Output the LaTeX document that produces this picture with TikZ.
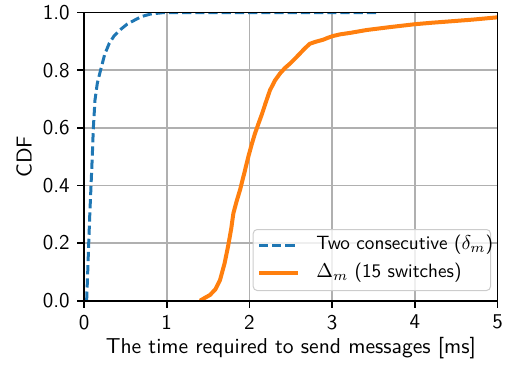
\documentclass[tikz,border=0pt]{standalone}
\usepackage{fontspec}
\definecolor{tabblue}{HTML}{1F77B4}
\definecolor{taborange}{HTML}{FF7F0E}
\definecolor{gridgray}{HTML}{B0B0B0}
\definecolor{legedge}{HTML}{CCCCCC}
\tikzset{
  gridline/.style={draw=gridgray, line width=0.8pt},
  spine/.style={draw=black, line width=0.8pt},
  bluecurve/.style={draw=tabblue, line width=1.5pt, dash pattern=on 4.6pt off 2pt},
  orangecurve/.style={draw=taborange, line width=2pt, line join=round},
  ticklab/.style={inner sep=0pt},
  legbox/.style={draw=legedge, fill=white, fill opacity=0.8, rounded corners=2pt, line width=0.5pt},
  legtext/.style={anchor=west, inner sep=0pt, font=\sffamily\fontsize{9.6}{11}\selectfont},
}
\begin{document}
\begin{tikzpicture}[x=1pt,y=1pt, font=\sffamily\fontsize{10.5}{12}\selectfont]
\useasboundingbox (0,0) rectangle (254,182.5);
\begin{scope}[shift={(42,32.15)}, x=41.35pt, y=144pt]
  % grid
  \foreach \i in {1,...,4} \draw[gridline] (\i,0) -- (\i,1);
  \foreach \j in {0.2,0.4,0.6,0.8} \draw[gridline] (0,\j) -- (5,\j);
  % curves
  \begin{scope}
    \clip (0,0) rectangle (5,1);
    \draw[bluecurve] (0.032,0) -- (0.045,0.1) -- (0.057,0.2) -- (0.07,0.3) -- (0.085,0.4) -- (0.1,0.5) -- (0.113,0.6) -- (0.133,0.697) -- (0.161,0.755) -- (0.2,0.8) -- (0.25,0.855) -- (0.306,0.894) -- (0.365,0.92) -- (0.435,0.94) -- (0.52,0.96) -- (0.617,0.975) -- (0.7,0.987) -- (0.8,0.995) -- (0.95,1.0) -- (3.55,1.0);
    \draw[orangecurve] (1.403,0) -- (1.45,0.008) -- (1.524,0.02) -- (1.59,0.04) -- (1.645,0.072) -- (1.7,0.13) -- (1.745,0.193) -- (1.78,0.25) -- (1.806,0.303) -- (1.845,0.345) -- (1.886,0.384) -- (1.94,0.445) -- (1.987,0.5) -- (2.03,0.545) -- (2.068,0.581) -- (2.11,0.615) -- (2.148,0.645) -- (2.2,0.69) -- (2.249,0.731) -- (2.31,0.765) -- (2.37,0.789) -- (2.43,0.808) -- (2.49,0.823) -- (2.55,0.84) -- (2.61,0.858) -- (2.67,0.876) -- (2.73,0.892) -- (2.8,0.899) -- (2.89,0.906) -- (2.95,0.913) -- (3.01,0.919) -- (3.1,0.925) -- (3.22,0.93) -- (3.42,0.94) -- (3.7,0.95) -- (4.0,0.96) -- (4.2,0.965) -- (4.43,0.97) -- (4.7,0.976) -- (5.0,0.984);
  \end{scope}
  % spines
  \draw[spine] (0,0) rectangle (5,1);
  % ticks
  \foreach \i in {0,...,5} {
    \draw[spine] (\i,0) -- ++(0,-3.5pt) coordinate (xtc\i);
    \node[ticklab, anchor=north, yshift=-3.5pt] (xt\i) at (xtc\i) {\i};
  }
  \foreach \j/\l [count=\k] in {0/0.0,0.2/0.2,0.4/0.4,0.6/0.6,0.8/0.8,1/1.0} {
    \draw[spine] (0,\j) -- ++(-3.5pt,0) coordinate (ytc\k);
    \node[ticklab, anchor=east, xshift=-3.5pt] (yt\k) at (ytc\k) {\l};
  }
\end{scope}
% axis labels
\node[font=\sffamily\fontsize{10.8}{12}\selectfont] (xlabel) at (145.4,8.5) {The time required to send messages [ms]};
\node[rotate=90, font=\sffamily\fontsize{10.8}{12}\selectfont] (ylabel) at (12,104.2) {CDF};
% legend
\node[legbox, minimum width=118.65pt, minimum height=30.5pt, anchor=south west, inner sep=0pt] (leg) at (126.35,37) {};
\coordinate (lb1) at (129.5,60);
\coordinate (le1) at (149,60);
\coordinate (lb2) at (129.5,46);
\coordinate (le2) at (149,46);
\draw[bluecurve] (lb1) -- (le1);
\draw[orangecurve] (lb2) -- (le2);
\node[legtext] (legt1) at (158,60) {Two consecutive ($\delta_m$)};
\node[legtext] (legt2) at (158,46) {$\Delta_m$ (15 switches)};
\end{tikzpicture}
\end{document}
